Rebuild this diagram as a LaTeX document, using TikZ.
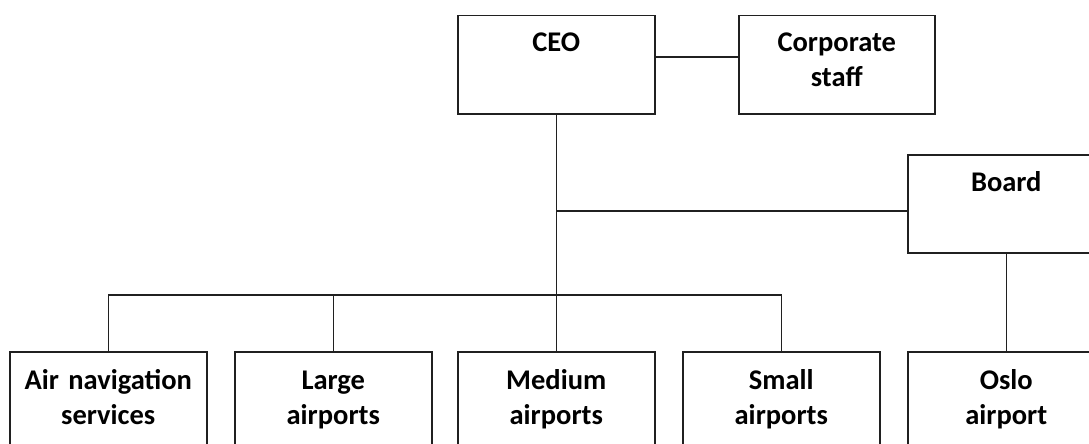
\documentclass[tikz,border=0pt]{standalone}
\usepackage{fontspec}
\setmainfont{Carlito}
\definecolor{linec}{HTML}{202020}
\begin{document}
\begin{tikzpicture}[x=1pt,y=-1pt,
  box/.style={draw=linec, line width=1.5pt, minimum width=197pt, minimum height=98pt, inner sep=0pt, anchor=north west},
  lbl/.style={font=\fontsize{28.5}{35}\selectfont\bfseries, align=center, text width=195pt, anchor=base, inner sep=0pt},
  conn/.style={draw=linec, line width=1.5pt}]
\useasboundingbox (0,0) rectangle (1089,444);
\clip (0,0) rectangle (1089,444);
% boxes
\node[box] (ceo) at (457,15) {};
\node[box, minimum width=196pt] (corp) at (738,15) {};
\node[box] (board) at (907,154) {};
\node[box] (air) at (9,351) {};
\node[box] (large) at (234,351) {};
\node[box] (medium) at (457,351) {};
\node[box] (small) at (682,351) {};
\node[box] (oslo) at (907,351) {};
% labels
\node[lbl] (ceot) at ([yshift=-37pt]ceo.north) {CEO};
\node[lbl] (corpt) at ([yshift=-37pt]corp.north) {Corporate\\staff};
\node[lbl] (boardt) at ([yshift=-37pt]board.north) {Board};
\node[lbl] (airt) at ([yshift=-38pt]air.north) {Air navigation\\services};
\node[lbl] (larget) at ([yshift=-38pt]large.north) {Large\\airports};
\node[lbl] (mediumt) at ([yshift=-38pt]medium.north) {Medium\\airports};
\node[lbl] (smallt) at ([yshift=-38pt]small.north) {Small\\airports};
\node[lbl] (oslot) at ([yshift=-38pt]oslo.north) {Oslo\\airport};
% connectors
\coordinate (c1) at (0,57);
\coordinate (hboard) at (0,211);
\coordinate (hb) at (0,295);
\draw[conn] (ceo.east |- c1) -- (corp.west |- c1);
\draw[conn] (ceo.south) -- (medium.north);
\draw[conn] (ceo.south |- hboard) -- (board.west |- hboard);
\draw[conn] (air.north) -- (air.north |- hb) -- (small.north |- hb) -- (small.north);
\draw[conn] (large.north) -- (large.north |- hb);
\draw[conn] (board.south) -- (oslo.north);
\end{tikzpicture}
\end{document}
